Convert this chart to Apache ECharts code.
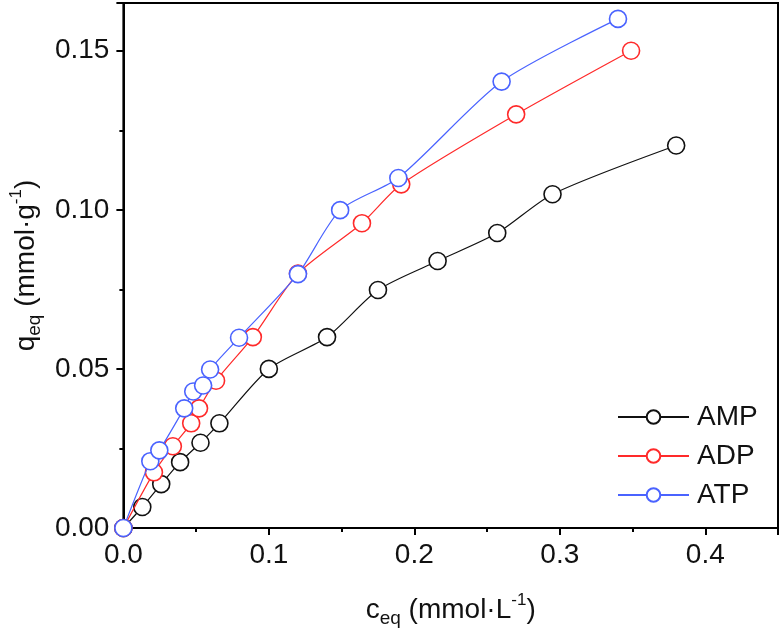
<!DOCTYPE html>
<html>
<head>
<meta charset="utf-8">
<script src="https://cdn.jsdelivr.net/npm/echarts@6/dist/echarts.min.js"></script>
<style>html,body{margin:0;padding:0;background:#fff;}#c{width:780px;height:638px;}</style>
</head>
<body>
<div id="c"></div>
<script>
const seriesNames = ['AMP', 'ADP', 'ATP'];
const ampData = [[0,0],[0.013,0.0066],[0.026,0.0138],[0.039,0.0207],[0.053,0.0268],[0.066,0.0329],[0.1,0.05],[0.14,0.06],[0.175,0.0748],[0.216,0.0839],[0.257,0.0927],[0.295,0.1049],[0.38,0.1202]];
const adpData = [[0,0],[0.021,0.0175],[0.034,0.0257],[0.0466,0.0329],[0.052,0.0376],[0.0637,0.0463],[0.089,0.06],[0.12,0.08],[0.164,0.0958],[0.191,0.108],[0.27,0.13],[0.349,0.15]];
const atpData = [[0,0],[0.0185,0.021],[0.0247,0.0244],[0.0418,0.0376],[0.048,0.0429],[0.0548,0.0448],[0.0596,0.0498],[0.0795,0.0598],[0.12,0.0798],[0.149,0.0999],[0.189,0.11],[0.26,0.1403],[0.34,0.16]];
const xTitle = '{a|c}{sub|eq}{a| (mmol·L}{sup|-1}{a|)}';
const yTitle = '{a|q}{sub|eq}{a| (mmol·g}{sup|-1}{a|)}';

const FONT = '"Liberation Sans", Arial, sans-serif';
const colors = ['#111111', '#ff2a2a', '#4a63ff'];
const dataSets = [ampData, adpData, atpData];

const rich = {
  a: {fontSize: 28, fontFamily: FONT, color: '#111', lineHeight: 36, verticalAlign: 'middle'},
  sub: {fontSize: 19, fontFamily: FONT, color: '#111', lineHeight: 16, verticalAlign: 'bottom'},
  sup: {fontSize: 17, fontFamily: FONT, color: '#111', lineHeight: 22, verticalAlign: 'top'}
};

const chart = echarts.init(document.getElementById('c'), null, {renderer: 'canvas'});
chart.setOption({
  animation: false,
  backgroundColor: '#fff',
  grid: {left: 122, right: 2, top: 3, bottom: 110, show: true, borderColor: '#000', borderWidth: 2, backgroundColor: 'transparent'},
  legend: {
    orient: 'vertical', left: 612, top: 398, itemWidth: 71, itemHeight: 17, itemGap: 11,
    data: seriesNames,
    textStyle: {fontSize: 28, fontFamily: FONT, color: '#111', padding: [0,0,0,3]}
  },
  xAxis: {
    type: 'value', min: 0, max: 0.45, interval: 0.1,
    name: xTitle, nameLocation: 'middle', nameGap: 64,
    nameTextStyle: {rich: rich},
    axisLine: {show: true, lineStyle: {color: '#000', width: 2}},
    axisTick: {show: true, inside: false, length: 7, lineStyle: {color: '#000', width: 2}},
    minorTick: {show: true, splitNumber: 2, length: 4, lineStyle: {color: '#000', width: 2}},
    splitLine: {show: false},
    axisLabel: {fontSize: 28, fontFamily: FONT, color: '#111', margin: 13, showMaxLabel: false,
      formatter: v => v.toFixed(1)}
  },
  yAxis: {
    type: 'value', min: 0, max: 0.165, interval: 0.05,
    name: yTitle, nameLocation: 'middle', nameGap: 71, nameRotate: 90,
    nameTextStyle: {rich: rich},
    axisLine: {show: true, lineStyle: {color: '#000', width: 2}},
    axisTick: {show: true, inside: false, length: 7, lineStyle: {color: '#000', width: 2}},
    minorTick: {show: true, splitNumber: 2, length: 4, lineStyle: {color: '#000', width: 2}},
    splitLine: {show: false},
    axisLabel: {fontSize: 28, fontFamily: FONT, color: '#111', margin: 14, showMaxLabel: false,
      formatter: v => v.toFixed(2)}
  },
  series: seriesNames.map((n, i) => ({
    name: n, type: 'line', data: dataSets[i], smooth: 0.25,
    symbol: 'circle', symbolSize: 17, showAllSymbol: true, clip: true,
    lineStyle: {color: colors[i], width: 1.2},
    itemStyle: {color: '#fff', borderColor: colors[i], borderWidth: 1.6},
    z: 2 + i
  }))
});
</script>
</body>
</html>
